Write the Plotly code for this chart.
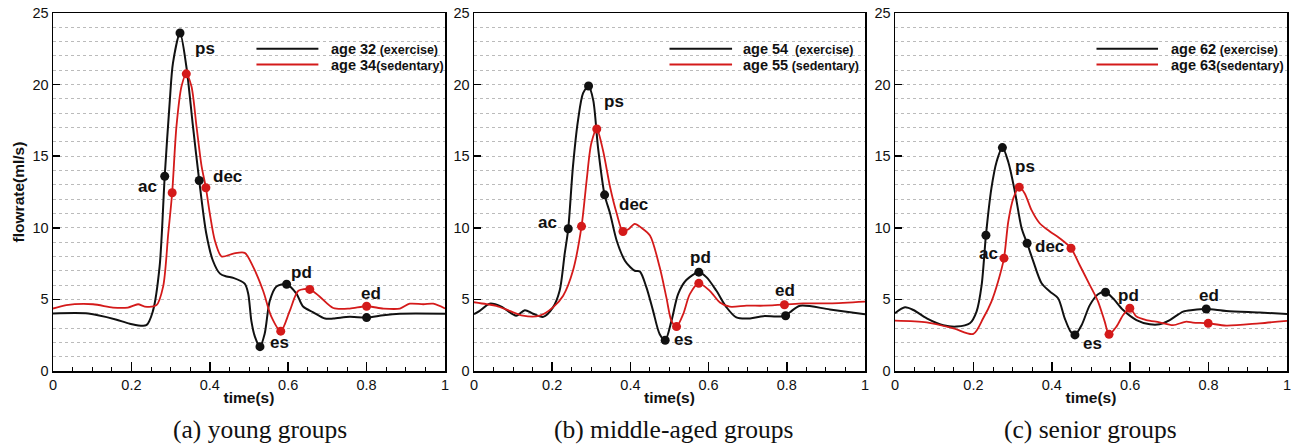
import plotly.graph_objects as go

# ---------------- data ----------------
# Panel (a) young groups
a_ex_t = [0, 0.09, 0.16, 0.196, 0.238, 0.255, 0.272, 0.285, 0.298, 0.306, 0.324, 0.340, 0.357, 0.373,
          0.391, 0.408, 0.426, 0.443, 0.46, 0.489, 0.498, 0.506, 0.515, 0.528, 0.54, 0.553, 0.57, 0.596,
          0.621, 0.638, 0.664, 0.694, 0.715, 0.757, 0.80, 0.843, 0.885, 1.0]
a_ex_q = [4.01, 4.01, 3.6, 3.3, 3.2, 4.2, 7.3, 13.6, 18.9, 21.5, 23.6, 21.3, 17.1, 13.3,
          9.6, 7.7, 6.8, 6.6, 6.5, 6.1, 5.4, 3.5, 2.4, 1.7, 2.6, 4.9, 5.9, 6.06,
          5.4, 4.5, 4.1, 3.66, 3.66, 3.78, 3.73, 3.9, 4.0, 4.0]
a_se_t = [0, 0.034, 0.102, 0.153, 0.191, 0.217, 0.234, 0.264, 0.281, 0.294, 0.304, 0.315, 0.328, 0.340,
          0.353, 0.366, 0.379, 0.39, 0.40, 0.413, 0.43, 0.46, 0.489, 0.51, 0.536, 0.557, 0.581, 0.604,
          0.626, 0.655, 0.68, 0.715, 0.757, 0.80, 0.843, 0.885, 0.91, 0.945, 0.97, 1.0]
a_se_q = [4.36, 4.6, 4.66, 4.43, 4.43, 4.66, 4.5, 4.6, 5.9, 9.6, 12.45, 17.1, 19.9, 20.75,
          19.9, 17.1, 14.3, 12.8, 11.0, 9.1, 8.0, 8.2, 8.25, 7.3, 5.6, 3.8, 2.78, 4.2,
          5.6, 5.7, 5.2, 4.4, 4.36, 4.52, 4.36, 4.36, 4.7, 4.66, 4.7, 4.36]
a_ex_key_t = [0.285, 0.324, 0.373, 0.528, 0.596, 0.80]
a_ex_key_q = [13.6, 23.6, 13.3, 1.7, 6.06, 3.73]
a_se_key_t = [0.304, 0.340, 0.39, 0.581, 0.655, 0.80]
a_se_key_q = [12.45, 20.75, 12.8, 2.78, 5.7, 4.52]

# Panel (b) middle-aged groups
b_ex_t = [0, 0.0145, 0.04, 0.07, 0.108, 0.13, 0.151, 0.177, 0.202, 0.219, 0.232, 0.241, 0.253, 0.266,
          0.279, 0.293, 0.305, 0.317, 0.334, 0.348, 0.365, 0.386, 0.40, 0.411, 0.424, 0.441, 0.458,
          0.475, 0.489, 0.505, 0.522, 0.543, 0.575, 0.595, 0.62, 0.646, 0.671, 0.706, 0.74, 0.774,
          0.797, 0.808, 0.834, 0.91, 1.0]
b_ex_q = [3.97, 4.2, 4.7, 4.5, 3.86, 4.25, 4.0, 3.78, 4.44, 5.6, 8.2, 9.93, 14.25, 17.5,
          19.4, 19.9, 18.9, 15.65, 12.3, 11.0, 9.1, 7.7, 7.24, 7.0, 6.96, 5.84, 4.2,
          2.57, 2.15, 3.5, 5.37, 6.35, 6.9, 6.54, 5.6, 4.44, 3.74, 3.67, 3.83, 3.8,
          3.86, 4.1, 4.56, 4.3, 3.97]
b_se_t = [0, 0.032, 0.057, 0.091, 0.125, 0.168, 0.202, 0.228, 0.253, 0.275, 0.288, 0.30, 0.314, 0.33,
          0.348, 0.365, 0.381, 0.395, 0.411, 0.428, 0.45, 0.475, 0.492, 0.505, 0.518, 0.535, 0.552,
          0.575, 0.603, 0.629, 0.654, 0.697, 0.74, 0.794, 0.842, 0.91, 1.0]
b_se_q = [4.8, 4.67, 4.55, 4.2, 3.86, 3.86, 4.44, 5.26, 7.0, 10.1, 13.3, 15.9, 16.9, 15.4,
          12.85, 11.0, 9.74, 9.9, 10.28, 10.0, 9.46, 7.24, 5.14, 3.5, 3.1, 3.97, 5.37,
          6.12, 5.6, 4.79, 4.49, 4.56, 4.56, 4.63, 4.72, 4.72, 4.84]
b_ex_key_t = [0.241, 0.293, 0.334, 0.489, 0.575, 0.797]
b_ex_key_q = [9.93, 19.9, 12.3, 2.15, 6.9, 3.86]
b_se_key_t = [0.275, 0.314, 0.381, 0.518, 0.575, 0.794]
b_se_key_q = [10.1, 16.9, 9.74, 3.1, 6.12, 4.63]

# Panel (c) senior groups
c_ex_t = [0, 0.0255, 0.047, 0.081, 0.123, 0.157, 0.191, 0.208, 0.221, 0.232, 0.246, 0.259, 0.274,
          0.289, 0.306, 0.323, 0.337, 0.353, 0.374, 0.395, 0.416, 0.433, 0.448, 0.459, 0.476, 0.497,
          0.518, 0.537, 0.556, 0.582, 0.616, 0.65, 0.675, 0.701, 0.735, 0.76, 0.794, 0.845, 0.93, 1.0]
c_ex_q = [4.03, 4.45, 4.26, 3.68, 3.2, 3.1, 3.33, 4.15, 6.0, 9.48, 12.77, 14.6, 15.6,
          14.6, 12.5, 9.97, 8.92, 7.64, 6.13, 5.55, 5.08, 3.68, 2.75, 2.52, 3.2, 4.6,
          5.36, 5.5, 5.08, 4.26, 3.56, 3.26, 3.26, 3.56, 4.15, 4.26, 4.33, 4.19, 4.08, 3.98]
c_se_t = [0, 0.081, 0.149, 0.20, 0.225, 0.246, 0.263, 0.278, 0.289, 0.302, 0.317, 0.331, 0.348,
          0.369, 0.395, 0.42, 0.449, 0.471, 0.497, 0.518, 0.535, 0.546, 0.565, 0.582, 0.599, 0.616,
          0.641, 0.675, 0.709, 0.743, 0.76, 0.799, 0.845, 0.93, 1.0]
c_se_q = [3.52, 3.4, 2.98, 2.59, 3.68, 4.85, 6.25, 7.88, 10.44, 12.07, 12.84, 12.4, 11.25,
          10.32, 9.74, 9.27, 8.57, 7.4, 6.0, 4.85, 3.45, 2.56, 3.1, 3.91, 4.38, 3.8,
          3.56, 3.4, 3.2, 3.45, 3.38, 3.33, 3.17, 3.33, 3.5]
c_ex_key_t = [0.232, 0.274, 0.337, 0.459, 0.537, 0.794]
c_ex_key_q = [9.48, 15.6, 8.92, 2.52, 5.5, 4.33]
c_se_key_t = [0.278, 0.317, 0.449, 0.546, 0.599, 0.799]
c_se_key_q = [7.88, 12.84, 8.57, 2.56, 4.38, 3.33]

point_names = ["ac", "ps", "dec", "es", "pd", "ed"]
# label anchor positions (time, flowrate) per panel
a_lab_t = [0.241, 0.387, 0.445, 0.577, 0.634, 0.811]
a_lab_q = [12.9, 22.5, 13.6, 2.0, 6.9, 5.4]
b_lab_t = [0.189, 0.358, 0.409, 0.537, 0.578, 0.796]
b_lab_q = [10.35, 18.8, 11.6, 2.17, 7.9, 5.65]
c_lab_t = [0.238, 0.331, 0.393, 0.504, 0.595, 0.801]
c_lab_q = [8.2, 14.3, 8.7, 1.93, 5.3, 5.3]

legend_ages = [("age 32", " (exercise)", "age 34", "(sedentary)"),
               ("age 54", "  (exercise)", "age 55", " (sedentary)"),
               ("age 62", " (exercise)", "age 63", "(sedentary)")]
captions = ["(a) young groups", "(b) middle-aged groups", "(c) senior groups"]
x_tickvals = [0, 0.2, 0.4, 0.6, 0.8, 1.0]
x_ticktext = ["0", "0.2", "0.4", "0.6", "0.8", "1"]

BLACK = "#111111"
RED = "#d41a1a"

panels = [
    (a_ex_t, a_ex_q, a_se_t, a_se_q, a_ex_key_t, a_ex_key_q, a_se_key_t, a_se_key_q, a_lab_t, a_lab_q),
    (b_ex_t, b_ex_q, b_se_t, b_se_q, b_ex_key_t, b_ex_key_q, b_se_key_t, b_se_key_q, b_lab_t, b_lab_q),
    (c_ex_t, c_ex_q, c_se_t, c_se_q, c_ex_key_t, c_ex_key_q, c_se_key_t, c_se_key_q, c_lab_t, c_lab_q),
]

W, H = 1294, 446
x_dom_px = [(53, 445), (474, 865), (895, 1287)]
caption_x_px = [260, 674, 1090]
y_dom = [1 - 371 / H, 1 - 13 / H]

fig = go.Figure()
shapes = []
annotations = []
FONT = "Liberation Sans, Arial, sans-serif"

for i, p in enumerate(panels):
    ext, exq, set_, seq, ekt, ekq, skt, skq, lt, lq = p
    xa = "x" if i == 0 else f"x{i+1}"
    ya = "y" if i == 0 else f"y{i+1}"
    fig.add_trace(go.Scatter(x=ext, y=exq, mode="lines", xaxis=xa, yaxis=ya,
                             line=dict(color=BLACK, width=2, shape="spline", smoothing=0.8),
                             showlegend=False, hoverinfo="skip"))
    fig.add_trace(go.Scatter(x=set_, y=seq, mode="lines", xaxis=xa, yaxis=ya,
                             line=dict(color=RED, width=1.8, shape="spline", smoothing=0.8),
                             showlegend=False, hoverinfo="skip"))
    fig.add_trace(go.Scatter(x=ekt, y=ekq, mode="markers", xaxis=xa, yaxis=ya,
                             marker=dict(color=BLACK, size=9), showlegend=False, hoverinfo="skip"))
    fig.add_trace(go.Scatter(x=skt, y=skq, mode="markers", xaxis=xa, yaxis=ya,
                             marker=dict(color=RED, size=9), showlegend=False, hoverinfo="skip"))
    for name, tx, ty in zip(point_names, lt, lq):
        annotations.append(dict(x=tx, y=ty, xref=xa, yref=ya, text=f"<b>{name}</b>",
                                showarrow=False, font=dict(size=17, color="#111", family=FONT)))
    # legend (lines + text)
    ages = legend_ages[i]
    lx0, lx1, ltx = [(0.519, 0.677, 0.703), (0.50, 0.66, 0.684), (0.514, 0.671, 0.698)][i]
    for k, (col, yy) in enumerate([(BLACK, 22.5), (RED, 21.4)]):
        shapes.append(dict(type="line", xref=xa, yref=ya, x0=lx0, x1=lx1, y0=yy, y1=yy,
                           line=dict(color=col, width=2)))
        annotations.append(dict(x=ltx, y=yy, xref=xa, yref=ya, xanchor="left", showarrow=False,
                                text=f"<b>{ages[2*k]}</b><b><span style='font-size:12.5px'>{ages[2*k+1]}</span></b>",
                                font=dict(size=14.5, color="#111", family=FONT)))
    # caption
    annotations.append(dict(x=caption_x_px[i] / W, y=1 - 429 / H, xref="paper", yref="paper",
                            text=captions[i], showarrow=False, xanchor="center", yanchor="middle",
                            font=dict(size=25.5, color="#111", family="Liberation Serif, Times New Roman, serif")))

axis_common = dict(showline=True, linecolor="black", linewidth=1.5, mirror=True, automargin=False,
                   tickfont=dict(size=14.5, color="#111", family=FONT), zeroline=False)

for i in range(3):
    xk = "xaxis" if i == 0 else f"xaxis{i+1}"
    yk = "yaxis" if i == 0 else f"yaxis{i+1}"
    xa = "x" if i == 0 else f"x{i+1}"
    ya = "y" if i == 0 else f"y{i+1}"
    fig.layout[xk] = dict(domain=[x_dom_px[i][0] / W, x_dom_px[i][1] / W], anchor=ya,
                          range=[0, 1], tickmode="array", tickvals=x_tickvals, ticktext=x_ticktext,
                          ticks="inside", ticklen=9, tickwidth=1.5,
                          tickcolor="black", showgrid=False,
                          minor=dict(dtick=0.05, tick0=0, ticks="inside", ticklen=4, tickwidth=1,
                                     tickcolor="black", showgrid=False),
                          title=dict(text="<b>time(s)</b>", font=dict(size=15.5, color="#111", family=FONT),
                                     standoff=0),
                          **axis_common)
    fig.layout[yk] = dict(domain=y_dom, anchor=xa, range=[0, 25], dtick=5, tick0=0,
                          ticks="inside", ticklen=7, tickwidth=1.5, tickcolor="black",
                          showgrid=True, gridcolor="#bbbbbb", griddash="dot", gridwidth=1,
                          minor=dict(dtick=1, showgrid=True, gridcolor="#bbbbbb", griddash="dot",
                                     gridwidth=1, ticks=""),
                          title=dict(text="<b>flowrate(ml/s)</b>" if i == 0 else "",
                                     font=dict(size=15.5, color="#111", family=FONT), standoff=4),
                          **axis_common)

fig.update_layout(width=W, height=H, margin=dict(l=0, r=0, t=0, b=0, autoexpand=False),
                  paper_bgcolor="white", plot_bgcolor="white",
                  shapes=shapes, annotations=annotations, showlegend=False)

fig.write_html("out.html", config={"displayModeBar": False, "staticPlot": True},
               post_script="document.body.style.margin='0px';document.body.style.overflow='hidden';")
